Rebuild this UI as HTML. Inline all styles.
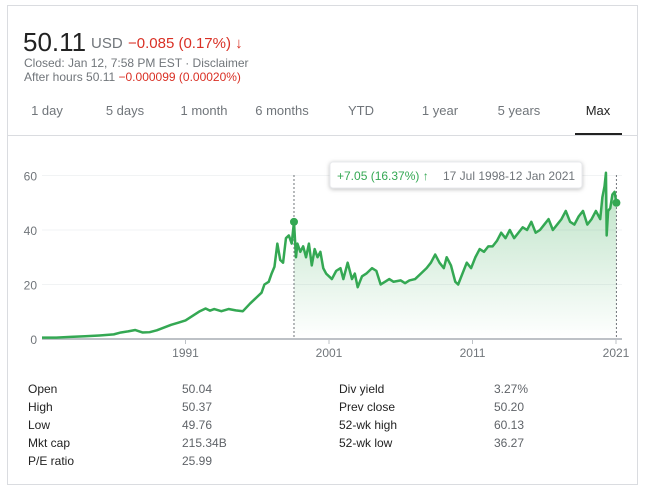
<!DOCTYPE html>
<html><head><meta charset="utf-8"><style>
body{margin:0;width:647px;height:493px;background:#fff;font-family:"Liberation Sans",Arial,sans-serif;position:relative;overflow:hidden}
.card{position:absolute;left:7px;top:5px;width:631px;height:480px;border:1px solid #dadce0;box-sizing:border-box}
.abs{position:absolute;white-space:nowrap}
.tab{position:absolute;top:103px;font-size:13px;color:#70757a;transform:translateX(-50%)}
.st{position:absolute;font-size:12px;color:#222}
.sv{position:absolute;font-size:12px;color:#5f6368}
</style></head><body>
<div class="card"></div>
<div class="abs" style="left:23px;top:27px;font-size:26px;color:#222">50.11</div>
<div class="abs" style="left:91px;top:35px;font-size:15px;color:#70757a">USD</div>
<div class="abs" style="left:128px;top:35px;font-size:15px;color:#d93025">−0.085 (0.17%) <b>↓</b></div>
<div class="abs" style="left:24px;top:56px;font-size:12px;color:#70757a">Closed: Jan 12, 7:58 PM EST · Disclaimer</div>
<div class="abs" style="left:24px;top:70px;font-size:12px;color:#70757a">After hours 50.11 <span style="color:#d93025">−0.000099 (0.00020%)</span></div>
<div class="tab" style="left:47px">1 day</div>
<div class="tab" style="left:125px">5 days</div>
<div class="tab" style="left:204px">1 month</div>
<div class="tab" style="left:282px">6 months</div>
<div class="tab" style="left:361px">YTD</div>
<div class="tab" style="left:440px">1 year</div>
<div class="tab" style="left:519px">5 years</div>
<div class="tab" style="left:598px;color:#222">Max</div>
<div class="abs" style="left:575px;top:133px;width:47px;height:3px;background:#222"></div>
<div class="abs" style="left:8px;top:135px;width:629px;height:1px;background:#dadce0"></div>

<svg id="chart" class="abs" style="left:0;top:150px" width="647" height="215"></svg>

<div class="st" style="left:28px;top:382px">Open</div>
<div class="sv" style="left:182px;top:382px">50.04</div>
<div class="st" style="left:28px;top:400px">High</div>
<div class="sv" style="left:182px;top:400px">50.37</div>
<div class="st" style="left:28px;top:418px">Low</div>
<div class="sv" style="left:182px;top:418px">49.76</div>
<div class="st" style="left:28px;top:436px">Mkt cap</div>
<div class="sv" style="left:182px;top:436px">215.34B</div>
<div class="st" style="left:28px;top:454px">P/E ratio</div>
<div class="sv" style="left:182px;top:454px">25.99</div>
<div class="st" style="left:339px;top:382px">Div yield</div>
<div class="sv" style="left:494px;top:382px">3.27%</div>
<div class="st" style="left:339px;top:400px">Prev close</div>
<div class="sv" style="left:494px;top:400px">50.20</div>
<div class="st" style="left:339px;top:418px">52-wk high</div>
<div class="sv" style="left:494px;top:418px">60.13</div>
<div class="st" style="left:339px;top:436px">52-wk low</div>
<div class="sv" style="left:494px;top:436px">36.27</div>

<script>
const years=[1981,1982,1983,1984,1985,1986,1986.5,1987,1987.5,1988,1988.5,1989,1989.5,1990,1990.5,1991,1991.5,1992,1992.4,1992.7,1993,1993.5,1994,1994.5,1995,1995.5,1996,1996.3,1996.5,1996.8,1997,1997.2,1997.4,1997.6,1997.8,1998,1998.2,1998.4,1998.56,1998.7,1998.8,1999,1999.2,1999.4,1999.6,1999.8,2000,2000.2,2000.4,2000.6,2000.8,2001,2001.2,2001.5,2001.8,2002,2002.3,2002.6,2002.8,2003,2003.3,2003.6,2004,2004.3,2004.6,2004.9,2005.2,2005.5,2006,2006.3,2006.6,2007,2007.4,2007.8,2008.1,2008.4,2008.7,2009,2009.2,2009.5,2009.8,2010,2010.3,2010.6,2010.9,2011.2,2011.5,2011.8,2012.1,2012.4,2012.7,2013,2013.3,2013.6,2013.9,2014.2,2014.5,2014.8,2015.1,2015.4,2015.7,2016,2016.3,2016.6,2016.9,2017.2,2017.5,2017.8,2018.1,2018.4,2018.7,2019,2019.3,2019.6,2019.9,2020.05,2020.2,2020.3,2020.35,2020.45,2020.6,2020.75,2020.9,2021.03];
const prices=[0.5,0.5,0.8,1.0,1.3,1.7,2.4,2.8,3.3,2.4,2.5,3.2,4.2,5.2,6.0,6.8,8.5,10.2,11.2,10.4,11,10.2,11,10.5,10.2,13,15.5,17,20,21,24,26.5,35,29,28,37,38,35,43,30,35,32,34,30,35,27,33,30,32,26,24,23,22,25,26,22,28,22,24,19,23,24,26,25,20,21,22,21,21.5,20.5,21.5,22,24,26,28,31,28,26,30,27,21,20,24,28,26,30,33,32,34,34,36,39,37,40,37,39,41,40,43,39,40,42,44,40,42,44,47,43,42,45,47,42,44,47,44,52,56,61,38,47,48,53,54,50];
const yTicks=[0,20,40,60];
const xTicks=[1991,2001,2011,2021];
const refYear=1998.56;
const NS='http://www.w3.org/2000/svg';
const svg=document.getElementById('chart');
const X=y=>185.5+(y-1991)*14.35;
const Y=v=>189-v*2.725;
function mk(t,a){const e=document.createElementNS(NS,t);for(const k in a)e.setAttribute(k,a[k]);svg.appendChild(e);return e;}
const defs=mk('defs',{});
defs.innerHTML='<linearGradient id="g" x1="0" y1="0" x2="0" y2="1"><stop offset="0" stop-color="#34a853" stop-opacity="0.35"/><stop offset="1" stop-color="#34a853" stop-opacity="0"/></linearGradient>';
yTicks.forEach(v=>{
 if(v>0){const l=mk('line',{x1:42,x2:622,y1:Y(v),y2:Y(v),stroke:'#f1f3f4','stroke-width':1});
 
 }
 const t=mk('text',{x:37,y:Y(v)+5,'text-anchor':'end','font-size':12,fill:'#70757a','font-family':'Liberation Sans, sans-serif'});
 t.textContent=v;
 
 
});
let fp=[];
for(let i=0;i<years.length;i++){if(years[i]>=refYear)fp.push(X(years[i])+','+Y(prices[i]));}
const fill=mk('polygon',{points:X(refYear)+','+Y(0)+' '+fp.join(' ')+' '+X(years[years.length-1])+','+Y(0),fill:'url(#g)'});


const base=mk('line',{x1:42,x2:622,y1:Y(0),y2:Y(0),stroke:'#bdc1c6','stroke-width':2});


xTicks.forEach(yr=>{
 const l=mk('line',{x1:X(yr),x2:X(yr),y1:Y(0),y2:Y(0)+5,stroke:'#bdc1c6','stroke-width':1});
 
 
 const t=mk('text',{x:X(yr),y:Y(0)+18,'text-anchor':'middle','font-size':12,fill:'#70757a','font-family':'Liberation Sans, sans-serif'});
 t.textContent=yr;
 
 
});
const d1=mk('line',{x1:X(refYear),x2:X(refYear),y1:25,y2:Y(0),stroke:'#70757a','stroke-width':1,'stroke-dasharray':'2,2'});


const lastX=X(years[years.length-1]);
const d2=mk('line',{x1:lastX,x2:lastX,y1:25,y2:Y(0),stroke:'#70757a','stroke-width':1,'stroke-dasharray':'2,2'});


const line=mk('polyline',{points:years.map((y,i)=>X(y)+','+Y(prices[i])).join(' '),fill:'none',stroke:'#34a853','stroke-width':2.5,'stroke-linejoin':'round'});


const ri=years.indexOf(refYear);
const c1=mk('circle',{cx:X(refYear),cy:Y(prices[ri]),r:4,fill:'#34a853'});


const c2=mk('circle',{cx:lastX,cy:Y(prices[prices.length-1]),r:4,fill:'#34a853'});


const tb=mk('rect',{x:330,y:12,width:252,height:26,rx:3,fill:'#fff',stroke:'#e8eaed'});
tb.setAttribute('style','filter:drop-shadow(0 1px 2px rgba(0,0,0,0.25))');


const tt=mk('text',{x:337,y:30,'font-size':12,fill:'#34a853','font-family':'Liberation Sans, sans-serif'});
tt.textContent='+7.05 (16.37%) ↑';


const td=mk('text',{x:443,y:30,'font-size':12,fill:'#70757a','font-family':'Liberation Sans, sans-serif'});
td.textContent='17 Jul 1998-12 Jan 2021';


</script>
</body></html>
